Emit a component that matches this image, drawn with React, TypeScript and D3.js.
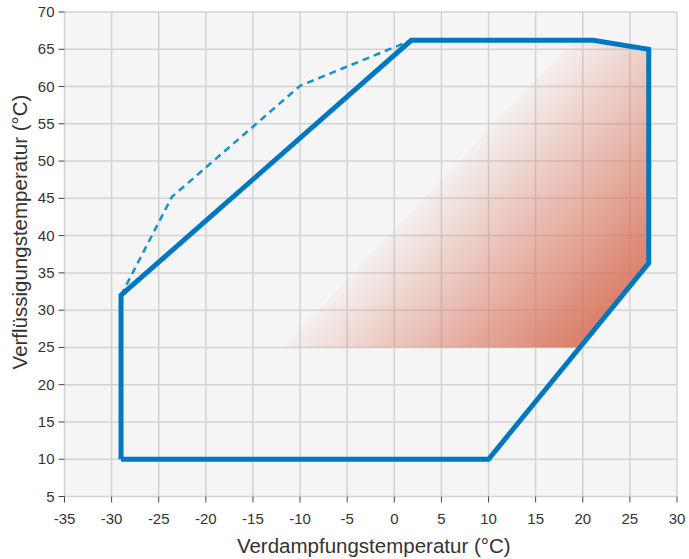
import React from "react";
import * as d3 from "d3";

const xTicks = [-35, -30, -25, -20, -15, -10, -5, 0, 5, 10, 15, 20, 25, 30];
const yTicks = [5, 10, 15, 20, 25, 30, 35, 40, 45, 50, 55, 60, 65, 70];

const envelopeX = [-29, -29, 1.8, 21.1, 27, 27, 10, -29];
const envelopeY = [10, 32, 66.2, 66.2, 65, 36.3, 10, 10];

const dashedX = [-29, -23.6, -10, 1.8];
const dashedY = [32, 45.2, 60.1, 66.2];

const zoneX = [-11.8, 19.0, 21.1, 27, 27, 19.7];
const zoneY = [25, 66.2, 66.2, 65, 36.3, 25];

const W = 689;
const H = 559;
const left = 64.5;
const right = 677;
const top = 12;
const bottom = 496.5;

export default function App() {
  const x = d3.scaleLinear().domain([-35, 30]).range([left, right]);
  const y = d3.scaleLinear().domain([5, 70]).range([bottom, top]);
  const line = d3.line<[number, number]>().x((d) => x(d[0])).y((d) => y(d[1]));

  const env: [number, number][] = envelopeX.map((v, i) => [v, envelopeY[i]]);
  const dash: [number, number][] = dashedX.map((v, i) => [v, dashedY[i]]);
  const zone: [number, number][] = zoneX.map((v, i) => [v, zoneY[i]]);

  const p0 = [x(zoneX[0]), y(zoneY[0])];
  const p1 = [x(zoneX[1]), y(zoneY[1])];
  const dx = p1[0] - p0[0];
  const dy = p1[1] - p0[1];
  const len = Math.hypot(dx, dy);
  const nx = -dy / len;
  const ny = dx / len;
  const far = [x(27), y(36.3)];
  const dist = (far[0] - p0[0]) * nx + (far[1] - p0[1]) * ny;

  const font = "'Liberation Sans', Arial, sans-serif";

  return (
    <svg width={W} height={H} style={{ position: "absolute", left: 0, top: 0 }}>
      <defs>
        <linearGradient
          id="zoneGrad"
          gradientUnits="userSpaceOnUse"
          x1={p0[0]}
          y1={p0[1]}
          x2={p0[0] + nx * dist}
          y2={p0[1] + ny * dist}
        >
          <stop offset="0" stopColor="rgb(216,114,90)" stopOpacity={0.04} />
          <stop offset="1" stopColor="rgb(216,114,90)" stopOpacity={0.88} />
        </linearGradient>
      </defs>
      <rect x={0} y={0} width={W} height={H} fill="#fff" />
      <rect x={left} y={top} width={right - left} height={bottom - top} fill="#f5f5f5" />
      {xTicks.map((t) => (
        <line key={"gx" + t} x1={x(t)} x2={x(t)} y1={top} y2={bottom} stroke="#d3d3d3" strokeWidth={1.5} />
      ))}
      {yTicks.map((t) => (
        <line key={"gy" + t} x1={left} x2={right} y1={y(t)} y2={y(t)} stroke="#d3d3d3" strokeWidth={1.5} />
      ))}
      <path d={line(zone) + "Z"} fill="url(#zoneGrad)" />
      <path d={line(dash) || ""} fill="none" stroke="#1591d2" strokeWidth={2.5} strokeDasharray="7,5" />
      <path d={line(env) || ""} fill="none" stroke="#0078c1" strokeWidth={5} strokeLinejoin="miter" />
      {xTicks.map((t) => (
        <g key={"tx" + t}>
          <line x1={x(t)} x2={x(t)} y1={bottom} y2={bottom + 6} stroke="#444" strokeWidth={1} />
          <text x={x(t)} y={bottom + 27} textAnchor="middle" fontFamily={font} fontSize={15} fill="#333">
            {t}
          </text>
        </g>
      ))}
      {yTicks.map((t) => (
        <g key={"ty" + t}>
          <line x1={left - 6} x2={left} y1={y(t)} y2={y(t)} stroke="#444" strokeWidth={1} />
          <text x={left - 10} y={y(t) + 5} textAnchor="end" fontFamily={font} fontSize={15} fill="#333">
            {t}
          </text>
        </g>
      ))}
      <text x={(left + right) / 2 + 3} y={553} textAnchor="middle" fontFamily={font} fontSize={20.5} fill="#333">
        Verdampfungstemperatur (°C)
      </text>
      <text
        transform={`translate(27, 232) rotate(-90)`}
        textAnchor="middle"
        fontFamily={font}
        fontSize={20.5}
        fill="#333"
      >
        Verflüssigungstemperatur (°C)
      </text>
    </svg>
  );
}
